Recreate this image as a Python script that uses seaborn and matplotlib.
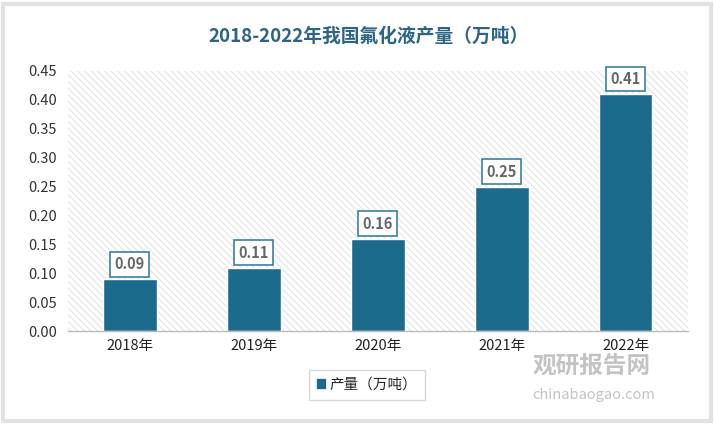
import matplotlib
matplotlib.use("Agg")
import matplotlib.pyplot as plt
import matplotlib.patches as mpatches
import seaborn as sns
import pandas as pd

# data
years = ["2018年", "2019年", "2020年", "2021年", "2022年"]
output = [0.09, 0.11, 0.16, 0.25, 0.41]
series_name = "产量（万吨）"
title = "2018-2022年我国氟化液产量（万吨）"

df = pd.DataFrame({"year": years, "value": output})

sns.set_theme(style="white")
plt.rcParams["font.family"] = ["Noto Sans CJK SC", "DejaVu Sans"]
plt.rcParams["hatch.color"] = "#e0e0e0"
plt.rcParams["hatch.linewidth"] = 0.7

bar_color = "#1d6b8c"

fig = plt.figure(figsize=(7.15, 4.24), dpi=100)
fig.patches.append(mpatches.Rectangle((0.004, 0.006), 0.99, 0.985, transform=fig.transFigure,
                                      fill=False, edgecolor="#e2e2e2", linewidth=3))
ax = fig.add_axes([0.095, 0.219, 0.867, 0.614])

# hatched plot background
ax.add_patch(mpatches.Rectangle((0, 0), 1, 1, transform=ax.transAxes, facecolor="white",
                                edgecolor="#e0e0e0", hatch="\\\\\\\\\\", linewidth=0, zorder=0))

sns.barplot(data=df, x="year", y="value", color=bar_color, width=0.43,
            edgecolor="white", linewidth=1, saturation=1, ax=ax, zorder=2)

for i, v in enumerate(output):
    ax.text(i, v + 0.012, f"{v:.2f}", ha="center", va="bottom", fontsize=10.5,
            fontweight="bold", color="#666666", zorder=4,
            bbox=dict(boxstyle="square,pad=0.3", facecolor="white", edgecolor="#3d7f9e", linewidth=1.2))

ax.set_ylim(0, 0.45)
ax.set_yticks([i * 0.05 for i in range(10)])
ax.set_yticklabels([f"{i * 0.05:.2f}" for i in range(10)], fontsize=10.5, color="#333333")
ax.tick_params(axis="x", labelsize=10.5, colors="#222222", length=0, pad=6)
ax.tick_params(axis="y", length=0, pad=8)
ax.set_xlabel("")
ax.set_ylabel("")
for s in ["top", "right", "left"]:
    ax.spines[s].set_visible(False)
ax.spines["bottom"].set_color("#bbbbbb")
ax.spines["bottom"].set_linewidth(1)

fig.text(0.515, 0.915, title, ha="center", va="center", fontsize=13.5, fontweight="bold",
         color="#2b6484")

leg = fig.legend(handles=[mpatches.Patch(color=bar_color, label=series_name)],
                 loc="center", bbox_to_anchor=(0.513, 0.092), fontsize=10.5,
                 handlelength=0.55, handleheight=0.55, handletextpad=0.3,
                 frameon=True, fancybox=False, edgecolor="#cccccc", borderpad=0.55)
leg.get_frame().set_linewidth(1)

# watermark
fig.text(0.745, 0.12, "观研报告网", fontsize=17, fontweight="bold", color="#b5b5b5", alpha=0.8)
fig.text(0.745, 0.06, "chinabaogao.com", fontsize=10.5, color="#b5b5b5", alpha=0.8)

fig.savefig("out.png", dpi=100)
